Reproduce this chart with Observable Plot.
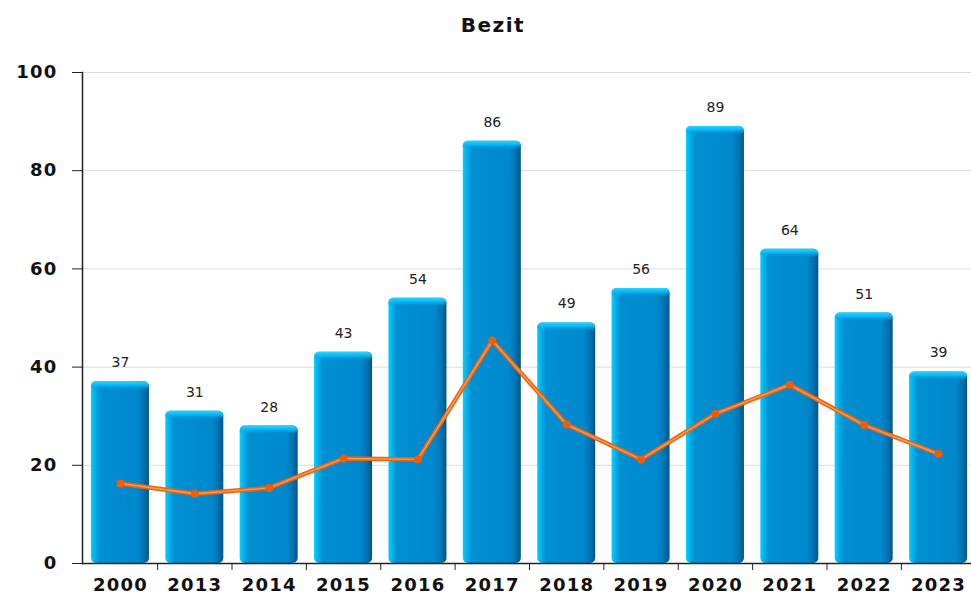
<!DOCTYPE html>
<html><head><meta charset="utf-8">
<script src="https://cdn.jsdelivr.net/npm/d3@7"></script>
<script src="https://cdn.jsdelivr.net/npm/@observablehq/plot@0.6"></script>
<style>
body{margin:0;background:#fff;font-family:"DejaVu Sans",sans-serif}
#title{height:45px;position:relative;width:971px}
#title span{position:absolute;left:0;width:986px;text-align:center;top:13px;font-weight:bold;font-size:20px;letter-spacing:1.5px;color:#111}
#chart svg{display:block}
</style></head><body>
<div id="title"><span>Bezit</span></div>
<div id="chart"></div>
<script>
const years = ["2000","2013","2014","2015","2016","2017","2018","2019","2020","2021","2022","2023"];
const barValues = [37,31,28,43,54,86,49,56,89,64,51,39];
const lineValues = [16.3,14.2,15.4,21.4,21.2,45.4,28.3,21.2,30.5,36.4,28.2,22.3];
const yTicks = [0,20,40,60,80,100];

const data = years.map((y,i)=>({year:y, value:barValues[i], line:lineValues[i]}));
const xRange = [82, 976];
const padIn = 0.22, padOut = 0.12;
const step = (xRange[1]-xRange[0])/(years.length - padIn + 2*padOut);

const svg = Plot.plot({
  width: 971, height: 553,
  marginLeft: 82, marginRight: 0, marginTop: 27, marginBottom: 35,
  style: {fontFamily: "DejaVu Sans", fontSize: "15px", color: "#111", background: "#fff", overflow: "hidden"},
  x: {domain: years, paddingInner: padIn, paddingOuter: padOut, round: false, range: xRange},
  y: {domain: [0,100]},
  marks: [
    Plot.gridY({ticks: yTicks.slice(1), stroke: "#dcdcdc", strokeOpacity: 1}),
    Plot.barY(data, {x: "year", y: "value", fill: "url(#barGrad)", rx: 5}),
    Plot.barY(data, {x: "year", y1: d => d.value - 1.8, y2: "value", fill: "url(#capGrad)", rx: 5}),
    Plot.lineY(data, {x: "year", y: "line", stroke: "#ec6410", strokeWidth: 4.4}),
    Plot.lineY(data, {x: "year", y: "line", stroke: "#ff9a4c", strokeWidth: 1.4}),
    Plot.dot(data, {x: "year", y: "line", r: 4, fill: "#f05c0a"}),
    Plot.text(data, {x: "year", y: "value", text: d => String(d.value), dy: -19, fontSize: 14, fill: "#222", style: "letter-spacing:1px"}),
    Plot.ruleY([0], {stroke: "#222", strokeWidth: 1.5}),
    Plot.frame({anchor: "left", stroke: "#222", strokeWidth: 1.5}),
    Plot.axisY({ticks: yTicks, tickSize: 10, tickPadding: 15, fontWeight: "bold", fontSize: 18, label: null, stroke: "#222", fill: "#111"}),
    Plot.axisX({tickSize: 7, tickFormat: () => "", dx: step/2, label: null, stroke: "#222"}),
    Plot.axisX({tickSize: 0, tickPadding: 15, fontWeight: "bold", fontSize: 18, label: null, fill: "#111"})
  ]
});

d3.select(svg).selectAll("g[aria-label='y-axis tick label'] text, g[aria-label='x-axis tick label'] text").style("letter-spacing", "1.2px");

const defs = d3.select(svg).insert("defs", ":first-child");
const g1 = defs.append("linearGradient").attr("id","barGrad").attr("x1",0).attr("x2",1).attr("y1",0).attr("y2",0);
[[0,"#00d4ff"],[0.06,"#00b4f0"],[0.15,"#0090d2"],[0.8,"#0088cc"],[0.9,"#0076b6"],[1,"#005586"]]
  .forEach(([o,c]) => g1.append("stop").attr("offset",o).attr("stop-color",c));
const g2 = defs.append("linearGradient").attr("id","capGrad").attr("x1",0).attr("x2",0).attr("y1",0).attr("y2",1);
[[0,"#28d4ff",1],[0.45,"#0cbaf6",0.9],[1,"#0090d2",0]]
  .forEach(([o,c,a]) => g2.append("stop").attr("offset",o).attr("stop-color",c).attr("stop-opacity",a));

document.getElementById("chart").appendChild(svg);
</script>
</body></html>
